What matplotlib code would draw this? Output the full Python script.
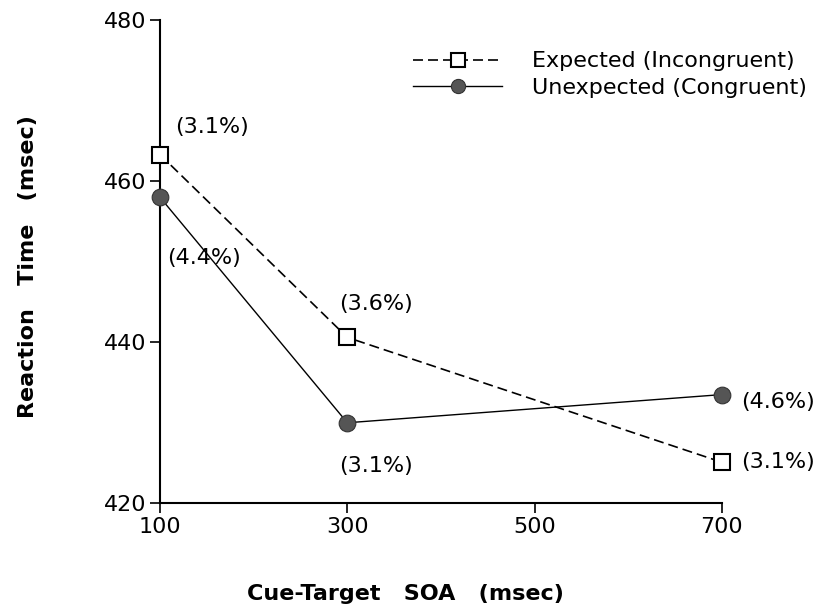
import matplotlib
matplotlib.use("Agg")
import matplotlib.pyplot as plt

soa = [100, 300, 700]
expected = [463.3, 440.6, 425.1]
unexpected = [458, 430, 433.5]
expected_err = ["(3.1%)", "(3.6%)", "(3.1%)"]
unexpected_err = ["(4.4%)", "(3.1%)", "(4.6%)"]
xticks = [100, 300, 500, 700]
yticks = [420, 440, 460, 480]

plt.rcParams['font.family'] = ['DejaVu Sans']

fig = plt.figure(figsize = (8.25, 6.13), dpi = 100)
ax = fig.add_axes([0.194, 0.179, 0.681, 0.788])

ax.plot(soa, expected, color = 'black', lw = 1.2, ls = (0, (6, 3)),
        marker = 's', ms = 12, mfc = 'white', mec = 'black', mew = 1.5,
        label = 'Expected (Incongruent)', zorder = 3, clip_on = False)
ax.plot(soa, unexpected, color = 'black', lw = 1.0,
        marker = 'o', ms = 12, mfc = '#555555', mec = '#333333', mew = 0.8,
        label = 'Unexpected (Congruent)', zorder = 3, clip_on = False)

# error rates next to the markers
e_off = [(11, 20), (-6, 24), (14, 0)]
u_off = [(5, -44), (-6, -31), (14, -5)]
for x, y, s, o in zip(soa, expected, expected_err, e_off):
  ax.annotate(s, (x, y), xytext = o, textcoords = 'offset points', ha = 'left', va = 'center', fontsize = 16)
for x, y, s, o in zip(soa, unexpected, unexpected_err, u_off):
  ax.annotate(s, (x, y), xytext = o, textcoords = 'offset points', ha = 'left', va = 'center', fontsize = 16)

ax.set_xlim(100, 700)
ax.set_ylim(420, 480)
ax.set_xticks(xticks)
ax.set_yticks(yticks)
ax.tick_params(labelsize = 16, length = 7, width = 1.2, pad = 3)
ax.spines['top'].set_visible(False)
ax.spines['right'].set_visible(False)
ax.spines['left'].set_linewidth(1.5)
ax.spines['bottom'].set_linewidth(1.5)

ax.set_xlabel("Cue-Target   SOA   (msec)", fontsize = 16, fontweight = 'bold')
ax.set_ylabel("Reaction   Time   (msec)", fontsize = 16, fontweight = 'bold')
ax.xaxis.set_label_coords(0.436, -0.168)
ax.yaxis.set_label_coords(-0.217, 0.49)

leg = ax.legend(loc = 'upper left', bbox_to_anchor = (0.415, 0.977), frameon = False,
                fontsize = 16, handlelength = 4.0, handletextpad = 1.35, labelspacing = 0.3,
                markerscale = 0.85)

fig.savefig("out.png", dpi = 100)
